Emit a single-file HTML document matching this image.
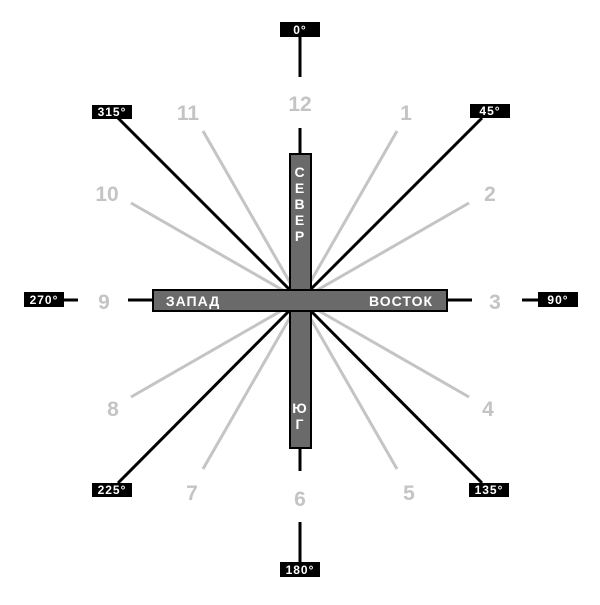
<!DOCTYPE html>
<html><head><meta charset="utf-8"><style>
body{margin:0;background:#fff}
</style></head><body>
<svg width="600" height="600" xmlns="http://www.w3.org/2000/svg" font-family="Liberation Sans, sans-serif" font-weight="bold">
<g stroke="#c4c4c4" stroke-width="3">
<line x1="300" y1="300" x2="397" y2="131"/>
<line x1="300" y1="300" x2="469" y2="203"/>
<line x1="300" y1="300" x2="469" y2="397"/>
<line x1="300" y1="300" x2="397" y2="469"/>
<line x1="300" y1="300" x2="203" y2="469"/>
<line x1="300" y1="300" x2="131" y2="397"/>
<line x1="300" y1="300" x2="131" y2="203"/>
<line x1="300" y1="300" x2="203" y2="131"/>
</g>
<g stroke="#000" stroke-width="3">
<line x1="300" y1="300" x2="118" y2="118"/>
<line x1="300" y1="300" x2="482" y2="118"/>
<line x1="300" y1="300" x2="482" y2="483"/>
<line x1="300" y1="300" x2="118" y2="483"/>
<line x1="300" y1="37" x2="300" y2="77"/>
<line x1="300" y1="128" x2="300" y2="153"/>
<line x1="300" y1="449" x2="300" y2="471"/>
<line x1="300" y1="522" x2="300" y2="562"/>
<line x1="64" y1="300" x2="78" y2="300"/>
<line x1="128" y1="300" x2="153" y2="300"/>
<line x1="447" y1="300" x2="472" y2="300"/>
<line x1="522" y1="300" x2="538" y2="300"/>
</g>
<g fill="#6a6a6a" stroke="#000" stroke-width="2">
<rect x="290" y="154" width="21" height="294"/>
<rect x="153" y="290" width="294" height="21"/>
</g>
<rect x="291" y="291" width="19" height="19" fill="#6a6a6a"/>
<g fill="#fff" font-size="14" text-anchor="middle" letter-spacing="1">
<text x="300" y="177">С</text><text x="300" y="193">Е</text><text x="300" y="209">В</text><text x="300" y="225">Е</text><text x="300" y="241">Р</text>
<text x="300" y="413">Ю</text><text x="300" y="429">Г</text>
<text x="193" y="306">ЗАПАД</text>
<text x="401" y="306">ВОСТОК</text>
</g>
<g fill="#000">
<rect x="280" y="22" width="40" height="15"/>
<rect x="280" y="562" width="40" height="15"/>
<rect x="24" y="292" width="40" height="15"/>
<rect x="538" y="292" width="40" height="15"/>
<rect x="92" y="105" width="40" height="14"/>
<rect x="470" y="104" width="40" height="14"/>
<rect x="469" y="483" width="40" height="14"/>
<rect x="92" y="483" width="40" height="14"/>
</g>
<g fill="#fff" font-size="12" text-anchor="middle" letter-spacing="1">
<text x="300" y="34">0°</text>
<text x="300" y="574">180°</text>
<text x="44" y="304">270°</text>
<text x="558" y="304">90°</text>
<text x="112" y="116">315°</text>
<text x="490" y="115">45°</text>
<text x="489" y="494">135°</text>
<text x="112" y="494">225°</text>
</g>
<g fill="#c4c4c4" font-size="21" text-anchor="middle">
<text x="300" y="111">12</text>
<text x="406" y="120">1</text>
<text x="490" y="201">2</text>
<text x="495" y="309">3</text>
<text x="488" y="416">4</text>
<text x="409" y="500">5</text>
<text x="300" y="506">6</text>
<text x="192" y="500">7</text>
<text x="113" y="416">8</text>
<text x="104" y="309">9</text>
<text x="107" y="201">10</text>
<text x="188" y="120">11</text>
</g>
</svg>
</body></html>
